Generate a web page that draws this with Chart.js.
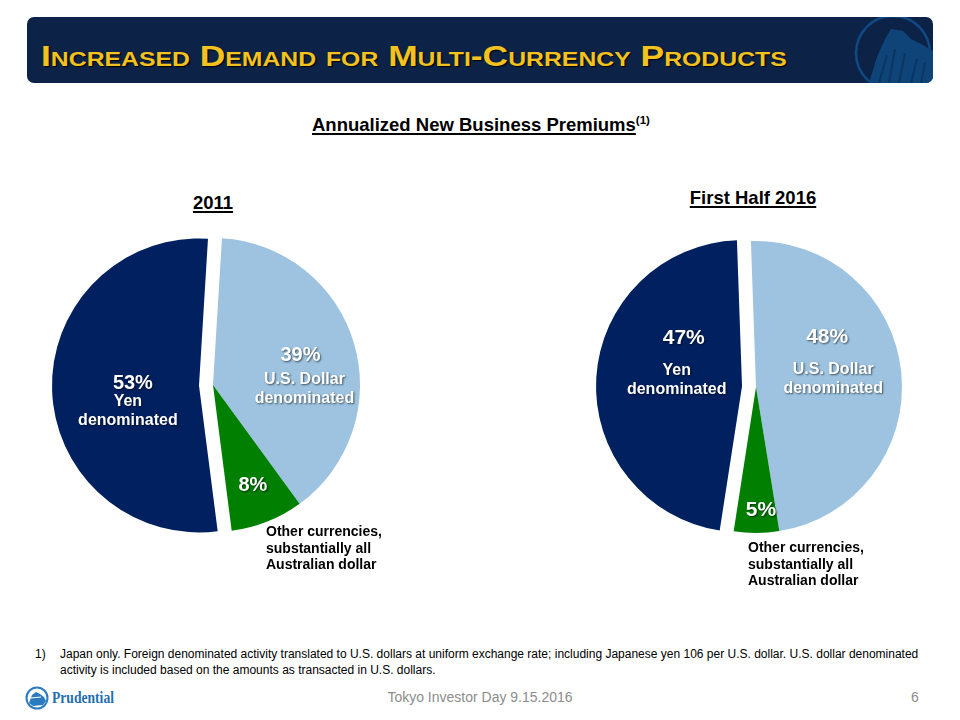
<!DOCTYPE html>
<html>
<head>
<meta charset="utf-8">
<script src="https://cdn.jsdelivr.net/npm/chart.js@4.4.1/dist/chart.umd.min.js"></script>
<style>
  html, body { margin: 0; padding: 0; background: #fff; }
  body { width: 960px; height: 720px; position: relative; overflow: hidden;
         font-family: Arial, "Liberation Sans", sans-serif; color: #000; }
  .hdr { position: absolute; left: 27px; top: 17px; width: 906px; height: 66px;
         background: #0c2347; border-radius: 7px; overflow: hidden; }
  .ttl { position: absolute; left: 14px; top: 24px; font-size: 30px; line-height: 30px;
         font-weight: bold; font-variant: small-caps; color: #f3c21f; white-space: nowrap;
         text-shadow: 1px 1px 1px #000; transform: scaleX(1.18); transform-origin: 0 0; }
  .hdr svg { position: absolute; left: 0; top: 0; }
  .abs { position: absolute; white-space: nowrap; }
  .sub { font-size: 18.5px; line-height: 18px; font-weight: bold; }
  .sub u { text-decoration-thickness: 1.5px; text-underline-offset: 2px; }
  .sub sup { font-size: 11.5px; vertical-align: 7px; line-height: 0; font-weight: bold; }
  .per { font-size: 18.5px; line-height: 18px; font-weight: bold; text-decoration: underline;
         text-decoration-thickness: 1.5px; text-underline-offset: 2px; transform: translateX(-50%); }
  .wrap { position: absolute; }
  .lbl { position: absolute; color: #fff; font-weight: bold; text-align: center; white-space: nowrap;
         transform: translate(-50%, -50%); text-shadow: 1px 1px 2px rgba(0,0,0,0.6); }
  .note { font-size: 14px; line-height: 16.5px; font-weight: bold; }
  .foot { font-size: 12px; line-height: 15.5px; }
  .footer { font-size: 14px; line-height: 14px; color: #8c8c8c; }
  .pru { font-family: "Liberation Serif", "DejaVu Serif", serif; font-weight: bold; font-size: 17px;
         line-height: 17px; color: #1f6fb2; transform: scaleX(0.8); transform-origin: 0 0; }
</style>
</head>
<body>

<div class="hdr">
  <svg width="906" height="66" viewBox="0 0 906 66">
    <circle cx="866" cy="36" r="37" fill="none" stroke="#0f4a82" stroke-width="2.5"/>
    <path d="M842 66 L850 40 L858 22 L864 12 L876 14 L884 22 L896 28 L906 34 L906 66 Z" fill="#0e4478"/>
    <path d="M852 66 L860 38 M862 66 L868 32 M872 66 L878 36 M884 66 L890 42 M894 66 L898 46" stroke="#0b3563" stroke-width="2"/>
  </svg>
  <div class="ttl" id="title"></div>
</div>

<div class="abs sub" id="subtitle" style="left:312px; top:116px;"></div>

<div class="abs per" id="per0" style="left:213px; top:194px;"></div>
<div class="abs per" id="per1" style="left:753px; top:189px;"></div>

<div class="wrap" id="w0" style="left:43px; top:215px; width:340px; height:340px;">
  <canvas id="c0" width="340" height="340"></canvas>
</div>
<div class="wrap" id="w1" style="left:586px; top:217px; width:340px; height:340px;">
  <canvas id="c1" width="340" height="340"></canvas>
</div>

<div class="abs note" id="note0" style="left:266px; top:523px;"></div>
<div class="abs note" id="note1" style="left:748px; top:539px;"></div>

<div class="abs foot" style="left:35px; top:647px;">1)</div>
<div class="abs foot" id="footnote" style="left:60px; top:647px; width:870px; white-space:normal;"></div>

<svg class="abs" style="left:25px; top:686px;" width="24" height="24" viewBox="0 0 24 24">
  <circle cx="12" cy="12" r="10.5" fill="#fff" stroke="#2a7bc0" stroke-width="2"/>
  <path d="M4 17 L7 9 L11 6 L15 8 L19 11 L21 15 L18 19 L8 20 Z" fill="#2a7bc0"/>
  <path d="M6 12 L16 11" stroke="#fff" stroke-width="1.2"/>
</svg>
<div class="abs pru" id="brand" style="left:52px; top:689px;"></div>
<div class="abs footer" id="event" style="left:480px; top:690px; transform:translateX(-50%);"></div>
<div class="abs footer" id="pageno" style="left:911px; top:690px;"></div>

<script>
// ---------------- data ----------------
const TITLE = 'Increased Demand for Multi-Currency Products';
const SUBTITLE = 'Annualized New Business Premiums';
const SUBTITLE_NOTE = '(1)';
const PERIODS = ['2011', 'First Half 2016'];
const CATEGORIES = ['U.S. Dollar denominated', 'Other currencies, substantially all Australian dollar', 'Yen denominated'];
const NAME_LINES = [['U.S. Dollar', 'denominated'], [], ['Yen', 'denominated']];
const OTHER_NOTE_LINES = ['Other currencies,', 'substantially all', 'Australian dollar'];
const VALUES_2011 = [39, 8, 53];
const VALUES_2016 = [48, 5, 47];
const SERIES = [VALUES_2011, VALUES_2016];
const COLORS = ['#9dc3e0', '#007f00', '#002060'];
const FOOTNOTE = 'Japan only. Foreign denominated activity translated to U.S. dollars at uniform exchange rate; including Japanese yen 106 per U.S. dollar. U.S. dollar denominated activity is included based on the amounts as transacted in U.S. dollars.';
const BRAND = 'Prudential';
const EVENT = 'Tokyo Investor Day 9.15.2016';
const PAGE = '6';

// ---------------- layout (styles / positions) ----------------
const PIE_LAYOUT = [
  { radius: 147, rotation: 3.5, explode: [0, 0, 14], pctSize: 20,
    labels: [ { f: 0.62, dx: 0, dy: -5, ndx: 4, ndy: 33.5 },
              { f: 0.735, dx: 0, dy: -1 },
              { f: 0.45, dx: 0, dy: -6, ndx: -5, ndy: 28 } ] },
  { radius: 146, rotation: -2, explode: [0, 0, 14], pctSize: 21,
    labels: [ { f: 0.49, dx: 0, dy: -45, ndx: 6, ndy: 42.5 },
              { f: 0.83, dx: 4.6, dy: 0 },
              { f: 0.40, dx: 0, dy: -47, ndx: -7, ndy: 43 } ] }
];

// ---------------- static texts ----------------
document.getElementById('title').textContent = TITLE;
document.getElementById('subtitle').innerHTML = '<u></u><sup></sup>';
document.querySelector('#subtitle u').textContent = SUBTITLE;
document.querySelector('#subtitle sup').textContent = SUBTITLE_NOTE;
PERIODS.forEach((p, i) => document.getElementById('per' + i).textContent = p);
[0, 1].forEach(i => {
  const el = document.getElementById('note' + i);
  OTHER_NOTE_LINES.forEach((s, j) => {
    if (j) el.appendChild(document.createElement('br'));
    el.appendChild(document.createTextNode(s));
  });
});
document.getElementById('footnote').textContent = FOOTNOTE;
document.getElementById('brand').textContent = BRAND;
document.getElementById('event').textContent = EVENT;
document.getElementById('pageno').textContent = PAGE;

// ---------------- plugins ----------------
const explodePlugin = {
  id: 'explode',
  afterUpdate(chart, args, opts) {
    const meta = chart.getDatasetMeta(0);
    meta.data.forEach((el, i) => {
      el.$explode = (opts.distances || [])[i] || 0;
      if (!el.$wrapped) {
        const base = Object.getPrototypeOf(el).draw;
        el.draw = function (ctx, area) {
          if (!this.$explode) return base.call(this, ctx, area);
          const h = (this.startAngle + this.endAngle) / 2;
          ctx.save();
          ctx.translate(Math.cos(h) * this.$explode, Math.sin(h) * this.$explode);
          base.call(this, ctx, area);
          ctx.restore();
        };
        el.$wrapped = true;
      }
    });
  }
};

const labelPlugin = {
  id: 'sliceLabels',
  afterDraw(chart, args, opts) {
    const meta = chart.getDatasetMeta(0);
    const wrap = chart.canvas.parentNode;
    const ox = wrap.offsetLeft, oy = wrap.offsetTop;
    const values = chart.data.datasets[0].data;
    if (!chart.$lbls) chart.$lbls = [];
    meta.data.forEach((el, i) => {
      const cfg = opts.layout[i];
      const h = (el.startAngle + el.endAngle) / 2;
      const ex = el.$explode || 0;
      const r = el.outerRadius * cfg.f;
      const x = ox + el.x + Math.cos(h) * (ex + r) + cfg.dx;
      const y = oy + el.y + Math.sin(h) * (ex + r) + cfg.dy;
      if (!chart.$lbls[i]) {
        const p = document.createElement('div');
        p.className = 'lbl';
        p.style.fontSize = opts.pctSize + 'px';
        p.style.lineHeight = opts.pctSize + 'px';
        document.body.appendChild(p);
        let n = null;
        const lines = NAME_LINES[i];
        if (lines.length) {
          n = document.createElement('div');
          n.className = 'lbl';
          n.style.fontSize = '16px';
          n.style.lineHeight = '19px';
          lines.forEach((s, j) => {
            if (j) n.appendChild(document.createElement('br'));
            n.appendChild(document.createTextNode(s));
          });
          document.body.appendChild(n);
        }
        chart.$lbls[i] = { p, n };
      }
      const L = chart.$lbls[i];
      L.p.textContent = values[i] + '%';
      L.p.style.left = x + 'px';
      L.p.style.top = y + 'px';
      if (L.n) {
        L.n.style.left = (x + cfg.ndx) + 'px';
        L.n.style.top = (y + cfg.ndy) + 'px';
      }
    });
  }
};

// ---------------- charts ----------------
SERIES.forEach((vals, k) => {
  const lay = PIE_LAYOUT[k];
  new Chart(document.getElementById('c' + k), {
    type: 'pie',
    data: {
      labels: CATEGORIES,
      datasets: [{
        data: vals,
        backgroundColor: COLORS,
        borderWidth: 0,
        hoverOffset: 0,
        radius: lay.radius,
        rotation: lay.rotation
      }]
    },
    options: {
      responsive: false,
      animation: false,
      events: [],
      radius: lay.radius,
      rotation: lay.rotation,
      layout: { padding: 0 },
      plugins: {
        legend: { display: false },
        tooltip: { enabled: false },
        explode: { distances: lay.explode },
        sliceLabels: { layout: lay.labels, pctSize: lay.pctSize }
      }
    },
    plugins: [explodePlugin, labelPlugin]
  });
});
</script>
</body>
</html>
